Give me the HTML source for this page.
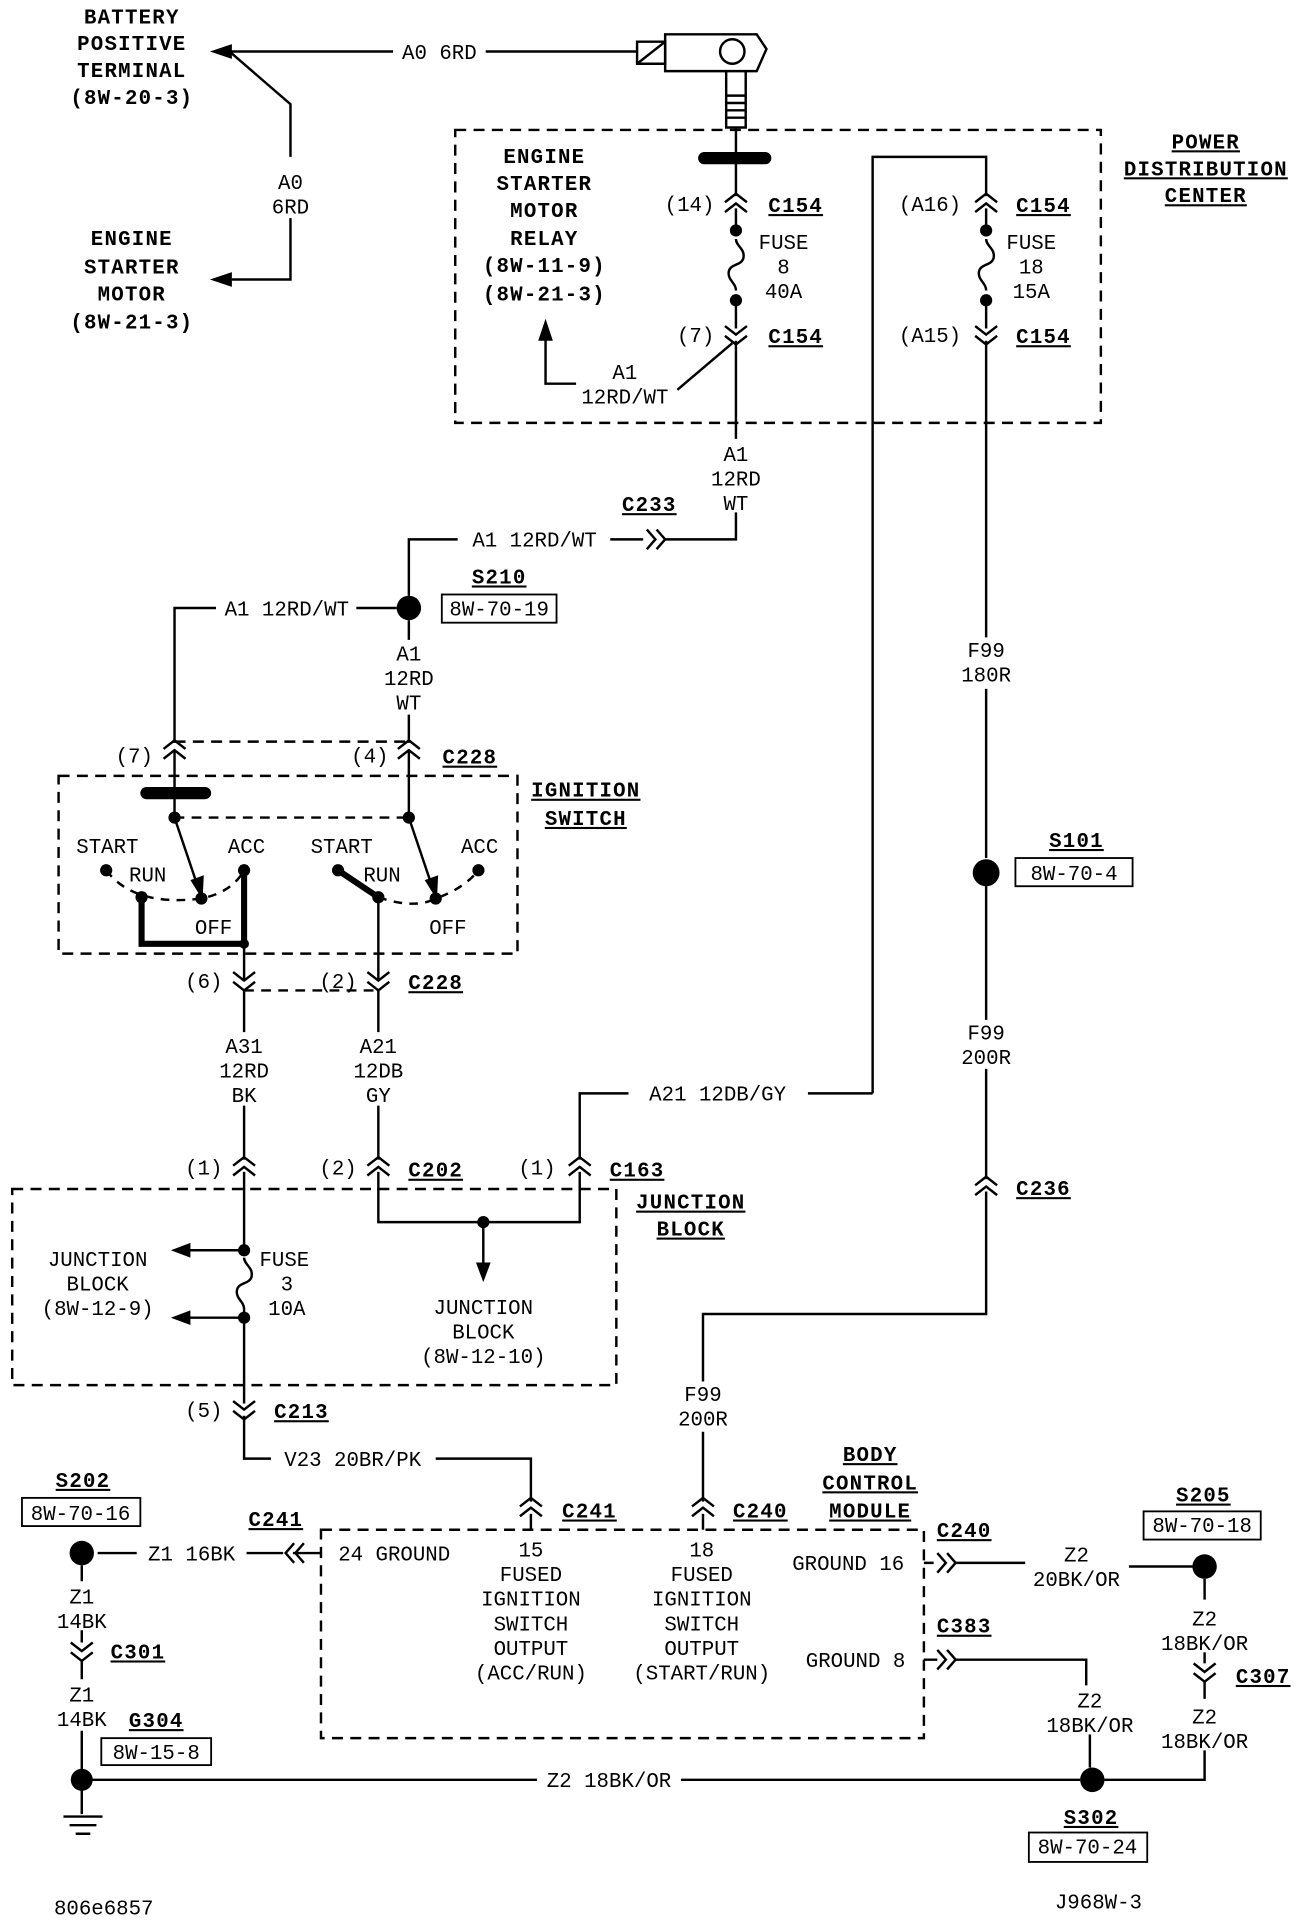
<!DOCTYPE html>
<html><head><meta charset="utf-8"><style>
html,body{margin:0;padding:0;background:#fff}
svg{display:block}
text{font-family:"Liberation Mono",monospace;font-size:17px;fill:#000}
.b{font-family:"Liberation Sans",sans-serif;font-weight:bold;font-size:19px;letter-spacing:1px}
.u{text-decoration:underline}
</style></head><body>
<svg width="1312" height="1922" viewBox="0 0 1075 1568" preserveAspectRatio="none" xmlns="http://www.w3.org/2000/svg">
<defs>
<g id="up" fill="none" stroke="#000" stroke-width="2"><path d="M-9,-1 L0,-8 L9,-1 M-9,7 L0,0 L9,7"/></g>
<g id="dn" fill="none" stroke="#000" stroke-width="2"><path d="M-9,-7 L0,0 L9,-7 M-9,1 L0,8 L9,1"/></g>
<g id="rt" fill="none" stroke="#000" stroke-width="2"><path d="M-7,-8 L0,0 L-7,8 M1,-8 L8,0 L1,8"/></g>
<g id="lt" fill="none" stroke="#000" stroke-width="2"><path d="M7,-8 L0,0 L7,8 M-1,-8 L-8,0 L-1,8"/></g>
<g id="fuse" fill="none" stroke="#000" stroke-width="2"><path d="M0,0 C0,6 8,8 6,16 C4,22 -6,20 -6,28 C-6,34 0,36 0,42"/></g>
</defs>
<g fill="none" stroke="#000" stroke-width="2">
<path d="M188,42 L322,42 M398,42 L522,42 M188,42 L238,85 L238,128 M238,178 L238,228 L190,228"/>
<path d="M522,34 L545,34 L545,52 L522,52 Z M522,52 L545,34"/>
<path d="M545,28 L620,28 L628,40 L620,58 L545,58 Z"/>
<circle cx="600" cy="42" r="10"/>
<path d="M595,58 L595,72 M611,58 L611,72 M595,72 L595,104 L611,104 L611,72 M595,78 H611 M595,84 H611 M595,90 H611 M595,96 H611"/>
<path d="M603,104 L603,160"/>
<rect x="373" y="106" width="529" height="239" stroke-dasharray="9,6"/>
<path d="M603,170 L603,188 M603,245 L603,268 M603,278 L603,358 M603,418 L603,440 L545,440 M527,440 L500,440 M375,440 L335,440 L335,486"/>
<path d="M447,268 L447,313 L472,313 M555,318 L600,280"/>
<path d="M715,892 L715,128 L808,128 L808,160 M808,170 L808,188 M808,245 L808,268 M808,278 L808,520 M808,562 L808,700 M808,722 L808,832 M808,872 L808,962 M808,972 L808,1072 L576,1072 L576,1127 M576,1168 L576,1225"/>
<rect x="832" y="700" width="96" height="23" stroke-width="1.5"/>
<path d="M325,496 L292,496 M177,496 L143,496 L143,606 M335,506 L335,522 M335,583 L335,606"/>
<rect x="362" y="485" width="94" height="23" stroke-width="1.5"/>
<path d="M143,605 L335,605" stroke-dasharray="9,6"/>
<rect x="48" y="633" width="376" height="145" stroke-dasharray="9,6"/>
<path d="M143,612 L143,667 M335,612 L335,667"/>
<path d="M143,667 L335,667" stroke-dasharray="8,6"/>
<path d="M143,667 L163,726 M335,667 L355,726"/>
<path d="M87,710 Q110,740 165,733 Q190,728 200,710" stroke-dasharray="7,6"/>
<path d="M310,732 Q340,742 357,733 Q380,725 392,710" stroke-dasharray="7,6"/>
<path d="M116,732 L116,770 L200,770 L200,710" stroke-width="5"/>
<path d="M277,710 Q295,722 310,732" stroke-width="5"/>
<path d="M200,770 L200,800 M310,732 L310,800"/>
<path d="M200,808 L310,808" stroke-dasharray="8,6"/>
<path d="M200,808 L200,842 M200,902 L200,946 M310,808 L310,842 M310,902 L310,946"/>
<path d="M715,892 L662,892 M515,892 L475,892 L475,946"/>
<rect x="10" y="970" width="495" height="160" stroke-dasharray="9,6"/>
<path d="M200,956 L200,1020 M200,1068 L200,1145 M310,956 L310,997 L475,997 L475,956 M396,997 L396,1040"/>
<path d="M200,1020 L148,1020 M200,1075 L148,1075"/>
<path d="M200,1155 L200,1190 L222,1190 M357,1190 L435,1190 L435,1225"/>
<rect x="263" y="1248" width="494" height="170" stroke-dasharray="9,6"/>
<path d="M435,1235 L435,1248 M576,1235 L576,1248"/>
<path d="M263,1267 L240,1267 M232,1267 L202,1267 M112,1267 L80,1267"/>
<rect x="18" y="1222" width="97" height="23" stroke-width="1.5"/>
<path d="M67,1277 L67,1290 M67,1330 L67,1340 M67,1355 L67,1370 M67,1412 L67,1480"/>
<rect x="83" y="1418" width="90" height="22" stroke-width="1.5"/>
<path d="M52,1482 L84,1482 M57,1489 L79,1489 M62,1496 L74,1496 M67,1452 L440,1452 M558,1452 L885,1452"/>
<rect x="843" y="1495" width="97" height="24" stroke-width="1.5"/>
<path d="M757,1275 L765,1275 M782,1275 L840,1275 M925,1278 L980,1278"/>
<rect x="937" y="1233" width="96" height="23" stroke-width="1.5"/>
<path d="M987,1288 L987,1305 M987,1348 L987,1357 M987,1372 L987,1386 M987,1428 L987,1452 L905,1452"/>
<path d="M757,1354 L768,1354 M782,1354 L890,1354 L890,1375 M893,1415 L893,1442"/>
</g>
<g fill="#000">
<path d="M172,42 L190,36 L190,48 Z"/>
<path d="M172,228 L190,222 L190,234 Z"/>
<path d="M447,260 L441,278 L453,278 Z"/>
<path d="M140,1020 L156,1014 L156,1026 Z"/>
<path d="M140,1075 L156,1069 L156,1081 Z"/>
<path d="M396,1046 L390,1030 L402,1030 Z"/>
<path d="M166,734 L156,718 L167,714 Z"/>
<path d="M358,734 L348,718 L359,714 Z"/>
<rect x="572" y="124" width="60" height="10" rx="5"/>
<rect x="115" y="642" width="58" height="10" rx="5"/>
<circle cx="603" cy="188" r="5"/><circle cx="603" cy="245" r="5"/>
<circle cx="808" cy="188" r="5"/><circle cx="808" cy="245" r="5"/>
<circle cx="335" cy="496" r="10"/><circle cx="808" cy="712" r="11"/>
<circle cx="143" cy="667" r="5"/><circle cx="335" cy="667" r="5"/>
<circle cx="87" cy="710" r="5"/><circle cx="116" cy="732" r="5"/><circle cx="165" cy="733" r="5"/><circle cx="200" cy="710" r="5"/>
<circle cx="277" cy="710" r="5"/><circle cx="310" cy="732" r="5"/><circle cx="357" cy="733" r="5"/><circle cx="392" cy="710" r="5"/>
<circle cx="200" cy="770" r="4"/>
<circle cx="396" cy="997" r="5"/><circle cx="200" cy="1020" r="5"/><circle cx="200" cy="1075" r="5"/>
<circle cx="67" cy="1267" r="10"/><circle cx="67" cy="1452" r="9"/>
<circle cx="987" cy="1278" r="10"/><circle cx="895" cy="1452" r="10"/>
</g>
<use href="#fuse" x="603" y="195"/><use href="#fuse" x="808" y="195"/><use href="#fuse" x="200" y="1026"/>
<use href="#up" x="603" y="166"/><use href="#dn" x="603" y="273"/>
<use href="#up" x="808" y="166"/><use href="#dn" x="808" y="273"/>
<use href="#rt" x="537" y="440"/>
<use href="#up" x="143" y="612"/><use href="#up" x="335" y="612"/>
<use href="#dn" x="200" y="800"/><use href="#dn" x="310" y="800"/>
<use href="#up" x="200" y="952"/><use href="#up" x="310" y="952"/><use href="#up" x="475" y="952"/>
<use href="#dn" x="200" y="1150"/><use href="#up" x="808" y="968"/>
<use href="#up" x="435" y="1230"/><use href="#up" x="576" y="1230"/>
<use href="#lt" x="242" y="1267"/><use href="#rt" x="775" y="1275"/><use href="#rt" x="775" y="1354"/>
<use href="#dn" x="67" y="1347"/><use href="#dn" x="987" y="1364"/>
<g class="b" text-anchor="middle">
<text x="108" y="19">BATTERY</text><text x="108" y="41">POSITIVE</text><text x="108" y="63">TERMINAL</text><text x="108" y="85">(8W-20-3)</text>
<text x="108" y="200">ENGINE</text><text x="108" y="223">STARTER</text><text x="108" y="245">MOTOR</text><text x="108" y="268">(8W-21-3)</text>
<text x="446" y="133">ENGINE</text><text x="446" y="155">STARTER</text><text x="446" y="177">MOTOR</text><text x="446" y="200">RELAY</text><text x="446" y="222">(8W-11-9)</text><text x="446" y="245">(8W-21-3)</text>
<text class="u" x="988" y="121">POWER</text><text class="u" x="988" y="143">DISTRIBUTION</text><text class="u" x="988" y="165">CENTER</text>
<text class="u" x="652" y="173">C154</text><text class="u" x="652" y="280">C154</text><text class="u" x="855" y="173">C154</text><text class="u" x="855" y="280">C154</text>
<text class="u" x="532" y="417">C233</text><text class="u" x="409" y="476">S210</text>
<text class="u" x="385" y="623">C228</text><text class="u" x="357" y="807">C228</text>
<text class="u" x="480" y="650">IGNITION</text><text class="u" x="480" y="673">SWITCH</text>
<text class="u" x="882" y="691">S101</text>
<text class="u" x="357" y="960">C202</text><text class="u" x="522" y="960">C163</text>
<text class="u" x="566" y="986">JUNCTION</text><text class="u" x="566" y="1008">BLOCK</text>
<text class="u" x="855" y="975">C236</text><text class="u" x="247" y="1157">C213</text>
<text class="u" x="483" y="1238">C241</text><text class="u" x="623" y="1238">C240</text>
<text class="u" x="713" y="1192">BODY</text><text class="u" x="713" y="1215">CONTROL</text><text class="u" x="713" y="1238">MODULE</text>
<text class="u" x="68" y="1213">S202</text><text class="u" x="226" y="1245">C241</text>
<text class="u" x="113" y="1353">C301</text><text class="u" x="128" y="1409">G304</text>
<text class="u" x="790" y="1254">C240</text><text class="u" x="790" y="1332">C383</text>
<text class="u" x="986" y="1225">S205</text><text class="u" x="1035" y="1373">C307</text>
<text class="u" x="894" y="1488">S302</text>
</g>
<g text-anchor="middle">
<text x="360" y="48">A0 6RD</text>
<text x="238" y="154">A0</text><text x="238" y="174">6RD</text>
<text x="565" y="172">(14)</text><text x="570" y="279">(7)</text>
<text x="642" y="203">FUSE</text><text x="642" y="223">8</text><text x="642" y="243">40A</text>
<text x="762" y="172">(A16)</text><text x="762" y="279">(A15)</text>
<text x="845" y="203">FUSE</text><text x="845" y="223">18</text><text x="845" y="243">15A</text>
<text x="512" y="309">A1</text><text x="512" y="329">12RD/WT</text>
<text x="603" y="376">A1</text><text x="603" y="396">12RD</text><text x="603" y="416">WT</text>
<text x="438" y="446">A1 12RD/WT</text>
<text x="235" y="502">A1 12RD/WT</text>
<text x="409" y="502" font-size="16">8W-70-19</text>
<text x="335" y="539">A1</text><text x="335" y="559">12RD</text><text x="335" y="579">WT</text>
<text x="808" y="536">F99</text><text x="808" y="556">180R</text>
<text x="880" y="718" font-size="16">8W-70-4</text>
<text x="808" y="848">F99</text><text x="808" y="868">200R</text>
<text x="110" y="622">(7)</text><text x="303" y="622">(4)</text>
<text x="88" y="696">START</text><text x="202" y="696">ACC</text><text x="121" y="719">RUN</text><text x="175" y="762">OFF</text>
<text x="280" y="696">START</text><text x="393" y="696">ACC</text><text x="313" y="719">RUN</text><text x="367" y="762">OFF</text>
<text x="167" y="806">(6)</text><text x="277" y="806">(2)</text>
<text x="200" y="859">A31</text><text x="200" y="879">12RD</text><text x="200" y="899">BK</text>
<text x="310" y="859">A21</text><text x="310" y="879">12DB</text><text x="310" y="899">GY</text>
<text x="588" y="898">A21 12DB/GY</text>
<text x="167" y="958">(1)</text><text x="277" y="958">(2)</text><text x="440" y="958">(1)</text>
<text x="80" y="1033">JUNCTION</text><text x="80" y="1053">BLOCK</text><text x="80" y="1073">(8W-12-9)</text>
<text x="233" y="1033">FUSE</text><text x="235" y="1053">3</text><text x="235" y="1073">10A</text>
<text x="396" y="1072">JUNCTION</text><text x="396" y="1092">BLOCK</text><text x="396" y="1112">(8W-12-10)</text>
<text x="167" y="1156">(5)</text>
<text x="289" y="1196">V23 20BR/PK</text>
<text x="576" y="1143">F99</text><text x="576" y="1163">200R</text>
<text x="323" y="1273">24 GROUND</text>
<text x="435" y="1270">15</text><text x="435" y="1290">FUSED</text><text x="435" y="1310">IGNITION</text><text x="435" y="1330">SWITCH</text><text x="435" y="1350">OUTPUT</text><text x="435" y="1370">(ACC/RUN)</text>
<text x="575" y="1270">18</text><text x="575" y="1290">FUSED</text><text x="575" y="1310">IGNITION</text><text x="575" y="1330">SWITCH</text><text x="575" y="1350">OUTPUT</text><text x="575" y="1370">(START/RUN)</text>
<text x="695" y="1281">GROUND 16</text><text x="701" y="1360">GROUND 8</text>
<text x="157" y="1273">Z1 16BK</text>
<text x="66" y="1240" font-size="16">8W-70-16</text>
<text x="67" y="1308">Z1</text><text x="67" y="1328">14BK</text>
<text x="67" y="1388">Z1</text><text x="67" y="1408">14BK</text>
<text x="128" y="1435" font-size="16">8W-15-8</text>
<text x="499" y="1458">Z2 18BK/OR</text>
<text x="891" y="1512" font-size="16">8W-70-24</text>
<text x="882" y="1274">Z2</text><text x="882" y="1294">20BK/OR</text>
<text x="985" y="1250" font-size="16">8W-70-18</text>
<text x="987" y="1326">Z2</text><text x="987" y="1346">18BK/OR</text>
<text x="987" y="1406">Z2</text><text x="987" y="1426">18BK/OR</text>
<text x="893" y="1393">Z2</text><text x="893" y="1413">18BK/OR</text>
<text x="85" y="1562">806e6857</text><text x="900" y="1557">J968W-3</text>
</g>
</svg>
</body></html>
